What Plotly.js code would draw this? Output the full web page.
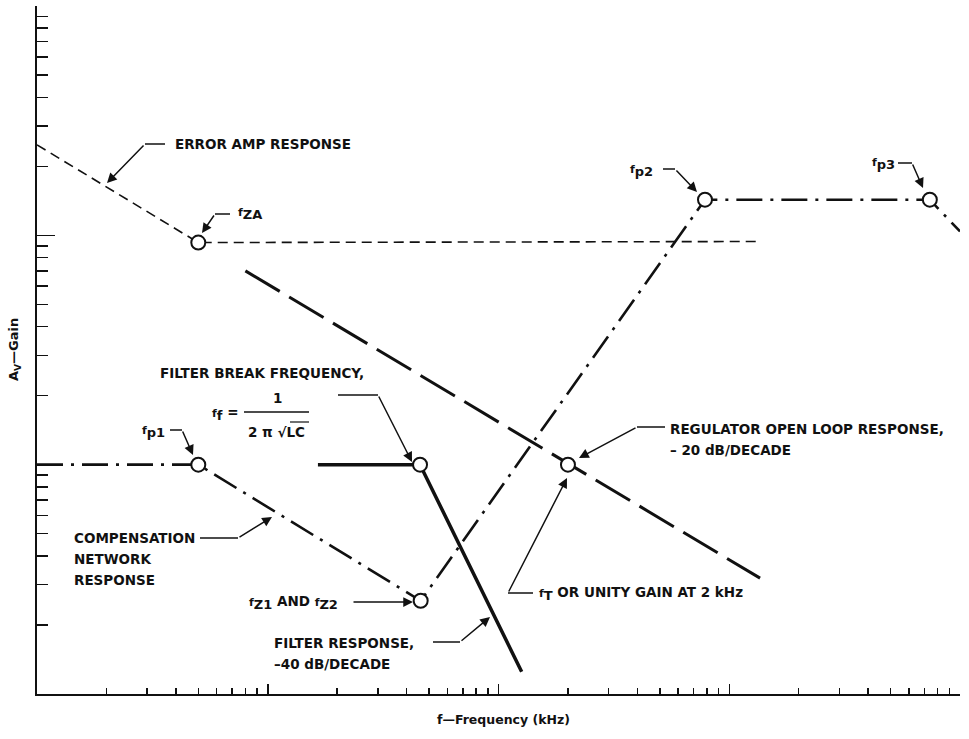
<!DOCTYPE html>
<html>
<head>
<meta charset="utf-8">
<script src="https://cdn.plot.ly/plotly-3.0.1.min.js"></script>
<style>
  html, body { margin: 0; padding: 0; background: #fff; }
  #chart { width: 969px; height: 739px; }
</style>
</head>
<body>
<div id="chart"></div>
<script>
// frequencies in kHz, gains as plain ratio (log-log chart)
const errAmpFreq = [0.01, 0.05, 13.2];
const errAmpGain = [24.8, 9.3, 9.4];

const regulatorFreq = [0.08, 13.6];
const regulatorGain = [7.0, 0.32];

const compFreq = [0.01, 0.05, 0.46, 7.85, 74, 100];
const compGain = [1, 1, 0.255, 14.3, 14.3, 10.4];

const filterFreq = [0.165, 0.457, 1.26];
const filterGain = [1, 1, 0.125];

// break points drawn as open circles: fZA, fp1, fZ1/fZ2, filter break, fT, fp2, fp3
const breakFreq = [0.05, 0.05, 0.46, 0.457, 2, 7.85, 74];
const breakGain = [9.3, 1, 0.255, 1, 1, 14.3, 14.3];

(function () {
    const fontFamily = '"DejaVu Sans", "Liberation Sans", Arial, sans-serif';
    const ink = '#111';

    // plot area in pixels, used only to place callouts
    const L = 37, R = 960, T = 6, B = 694;
    const px = x => (x - L) / (R - L);
    const py = y => (B - y) / (B - T);

    // small f with a large subscript, like the drawing
    const fsub = s => '<span style="font-size:11px">f</span><sub><span style="font-size:13px">' + s + '</span></sub>';

    const traces = [
        {
            x: errAmpFreq, y: errAmpGain, mode: 'lines', hoverinfo: 'skip',
            line: {color: ink, width: 1.6, dash: '10px,6px'}
        },
        {
            x: regulatorFreq, y: regulatorGain, mode: 'lines', hoverinfo: 'skip',
            line: {color: ink, width: 3, dash: '40px,11px'}
        },
        {
            x: compFreq, y: compGain, mode: 'lines', hoverinfo: 'skip',
            line: {color: ink, width: 2.6, dash: '26px,8px,3px,8px'}
        },
        {
            x: filterFreq, y: filterGain, mode: 'lines', hoverinfo: 'skip',
            line: {color: ink, width: 3.5}
        },
        {
            x: breakFreq, y: breakGain, mode: 'markers', hoverinfo: 'skip',
            marker: {symbol: 'circle', size: 14, color: '#fff', line: {color: ink, width: 2}}
        }
    ];

    // callouts: text lines, leader elbow and arrow tip (pixels)
    const callouts = [
        {lines: ['ERROR AMP RESPONSE'], tx: 173, ty: 144, lead: [165, 144], elbow: [145, 144], tip: [107, 183]},
        {lines: [fsub('ZA')], tx: 236, ty: 214, lead: [230, 214], elbow: [215, 214], tip: [202, 233]},
        {lines: [fsub('p2')], tx: 628, ty: 171, lead: [663, 169], elbow: [675, 169], tip: [697, 192]},
        {lines: [fsub('p3')], tx: 870, ty: 164, lead: [898, 163], elbow: [912, 163], tip: [923, 188]},
        {lines: [fsub('p1')], tx: 140, ty: 432, lead: [170, 430], elbow: [182, 430], tip: [193, 455]},
        {lines: ['FILTER BREAK FREQUENCY,'], tx: 158, ty: 373, lead: [338, 395], elbow: [378, 395], tip: [412, 462]},
        {lines: ['REGULATOR OPEN LOOP RESPONSE,', '\u2013 20 dB/DECADE'], tx: 668, ty: 429, lead: [665, 427], elbow: [637, 427], tip: [579, 458]},
        {lines: [fsub('T') + ' OR UNITY GAIN AT 2 kHz'], tx: 537, ty: 593, lead: [533, 593], elbow: [508, 593], tip: [567, 478]},
        {lines: ['COMPENSATION', 'NETWORK', 'RESPONSE'], tx: 72, ty: 538, lead: [200, 538], elbow: [238, 538], tip: [272, 517]},
        {lines: [fsub('Z1') + ' AND ' + fsub('Z2')], tx: 247, ty: 602, lead: null, elbow: [352, 602], tip: [413, 602]},
        {lines: ['FILTER RESPONSE,', '\u201340 dB/DECADE'], tx: 272, ty: 643, lead: [433, 642], elbow: [460, 642], tip: [490, 617]}
    ];

    const annotations = [];
    const shapes = [];
    const textFont = {family: fontFamily, size: 13.5, color: ink};

    callouts.forEach(c => {
        c.lines.forEach((line, i) => {
            annotations.push({
                text: '<b>' + line + '</b>', xref: 'paper', yref: 'paper',
                x: px(c.tx), y: py(c.ty + i * 21), xanchor: 'left', yanchor: 'middle',
                showarrow: false, font: textFont
            });
        });
        if (c.lead) {
            shapes.push({
                type: 'line', xref: 'paper', yref: 'paper',
                x0: px(c.lead[0]), y0: py(c.lead[1]), x1: px(c.elbow[0]), y1: py(c.elbow[1]),
                line: {color: ink, width: 1.5}
            });
        }
        annotations.push({
            text: '', xref: 'paper', yref: 'paper',
            x: px(c.tip[0]), y: py(c.tip[1]),
            ax: c.elbow[0] - c.tip[0], ay: c.elbow[1] - c.tip[1],
            showarrow: true, arrowhead: 2, arrowsize: 1.3, arrowwidth: 1.5, arrowcolor: ink
        });
    });

    // filter break formula  ff = 1 / (2 pi sqrt(LC))
    annotations.push(
        {text: '<b>' + fsub('f') + ' =</b>', xref: 'paper', yref: 'paper', x: px(210), y: py(414),
         xanchor: 'left', yanchor: 'middle', showarrow: false, font: textFont},
        {text: '<b>1</b>', xref: 'paper', yref: 'paper', x: px(277), y: py(398),
         xanchor: 'center', yanchor: 'middle', showarrow: false, font: textFont},
        {text: '<b>2 \u03c0 \u221aLC</b>', xref: 'paper', yref: 'paper', x: px(276), y: py(432),
         xanchor: 'center', yanchor: 'middle', showarrow: false, font: textFont}
    );
    shapes.push(
        {type: 'line', xref: 'paper', yref: 'paper', x0: px(244), x1: px(309), y0: py(412), y1: py(412),
         line: {color: ink, width: 1.5}},
        {type: 'line', xref: 'paper', yref: 'paper', x0: px(290), x1: px(309), y0: py(422), y1: py(422),
         line: {color: ink, width: 1.2}}
    );

    // axis titles
    annotations.push(
        {text: '<b>f\u2014Frequency (kHz)</b>', xref: 'paper', yref: 'paper', x: px(503), y: py(719),
         xanchor: 'center', yanchor: 'middle', showarrow: false, font: {family: fontFamily, size: 12.5, color: ink}},
        {text: '<b>A<sub>V</sub>\u2014Gain</b>', xref: 'paper', yref: 'paper', x: px(14), y: py(350),
         xanchor: 'center', yanchor: 'middle', textangle: -90, showarrow: false,
         font: {family: fontFamily, size: 13, color: ink}}
    );

    const axisBase = {
        type: 'log', showgrid: false, zeroline: false, showticklabels: false,
        showline: true, linecolor: ink, linewidth: 2,
        ticks: 'inside', tickcolor: ink, tickwidth: 1.5, dtick: 1
    };

    const layout = {
        width: 969, height: 739,
        margin: {l: L, r: 969 - R, t: T, b: 739 - B},
        paper_bgcolor: '#fff', plot_bgcolor: '#fff',
        showlegend: false,
        xaxis: Object.assign({}, axisBase, {
            range: [-2, 2], ticklen: 10,
            minor: {ticks: 'inside', ticklen: 6, tickwidth: 1.5, tickcolor: ink, dtick: 'D1', showgrid: false}
        }),
        yaxis: Object.assign({}, axisBase, {
            range: [-1, 2], ticklen: 18,
            minor: {ticks: 'inside', ticklen: 11, tickwidth: 1.5, tickcolor: ink, dtick: 'D1', showgrid: false}
        }),
        shapes: shapes,
        annotations: annotations
    };

    Plotly.newPlot('chart', traces, layout, {displayModeBar: false, staticPlot: true});
})();
</script>
</body>
</html>
